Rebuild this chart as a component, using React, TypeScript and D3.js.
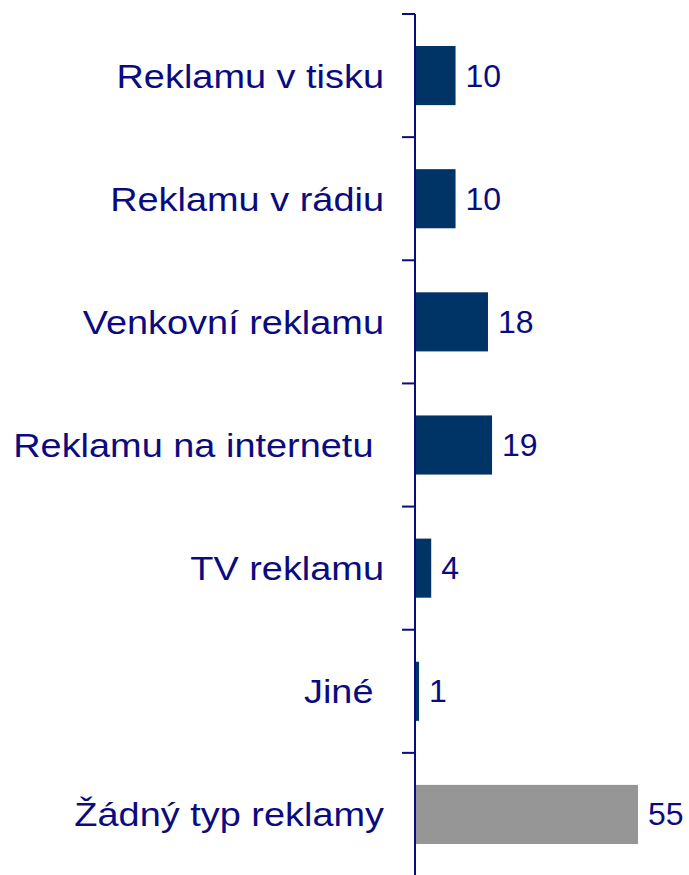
import React, { useEffect, useRef } from 'react';
import * as d3 from 'd3';

const categories = [
  'Reklamu v tisku',
  'Reklamu v rádiu',
  'Venkovní reklamu',
  'Reklamu na internetu ',
  'TV reklamu',
  'Jiné ',
  'Žádný typ reklamy',
];
const values = [10, 10, 18, 19, 4, 1, 55];
const highlight = [false, false, false, false, false, false, true];

const App = () => {
  const svgRef = useRef(null);

  useEffect(() => {
    if (!svgRef.current) return;
    const width = 689;
    const height = 875;
    const navy = '#0b0b80';

    const svg = d3.select(svgRef.current)
                  .attr('width', width)
                  .attr('height', height);
    svg.selectAll('*').remove();

    const y = d3.scaleBand()
                .domain(categories)
                .range([14, 876])
                .paddingInner(0.52)
                .paddingOuter(0.26);

    const x = d3.scaleLinear()
                .domain([0, 55])
                .range([415, 638]);

    const step = y.step();
    const data = categories.map((c, i) => ({ name: c, value: values[i], grey: highlight[i] }));

    // bars
    svg.selectAll('.bar')
       .data(data)
       .enter()
       .append('rect')
       .attr('class', 'bar')
       .attr('x', x(0))
       .attr('y', d => y(d.name))
       .attr('width', d => x(d.value) - x(0))
       .attr('height', y.bandwidth())
       .attr('fill', d => d.grey ? '#969696' : '#003366');

    // axis line + ticks at band boundaries
    svg.append('line')
       .attr('x1', x(0)).attr('x2', x(0))
       .attr('y1', 14).attr('y2', height)
       .attr('stroke', navy)
       .attr('stroke-width', 2);

    svg.selectAll('.tick')
       .data(d3.range(categories.length + 1))
       .enter()
       .append('line')
       .attr('class', 'tick')
       .attr('x1', x(0) - 13).attr('x2', x(0))
       .attr('y1', i => 14 + i * step)
       .attr('y2', i => 14 + i * step)
       .attr('stroke', navy)
       .attr('stroke-width', 2);

    // category labels (slightly stretched horizontally)
    const labelX = 384;
    svg.selectAll('.label')
       .data(data)
       .enter()
       .append('text')
       .attr('class', 'label')
       .attr('transform', d => `translate(${labelX},${y(d.name) + y.bandwidth() / 2 + 12}) scale(1.115,1)`)
       .attr('text-anchor', 'end')
       .style('white-space', 'pre')
       .attr('font-family', 'Liberation Sans, Arial, sans-serif')
       .attr('font-size', 34)
       .attr('fill', navy)
       .text(d => d.name);

    // value labels
    svg.selectAll('.value')
       .data(data)
       .enter()
       .append('text')
       .attr('class', 'value')
       .attr('x', d => x(d.value) + 10)
       .attr('y', d => y(d.name) + y.bandwidth() / 2 + 11)
       .attr('font-family', 'Liberation Sans, Arial, sans-serif')
       .attr('font-size', 32)
       .attr('fill', navy)
       .text(d => d.value);
  }, []);

  return (
    <div style={{ position: 'absolute', left: 0, top: 0 }}>
      <svg ref={svgRef} style={{ display: 'block' }}></svg>
    </div>
  );
};

export default App;
